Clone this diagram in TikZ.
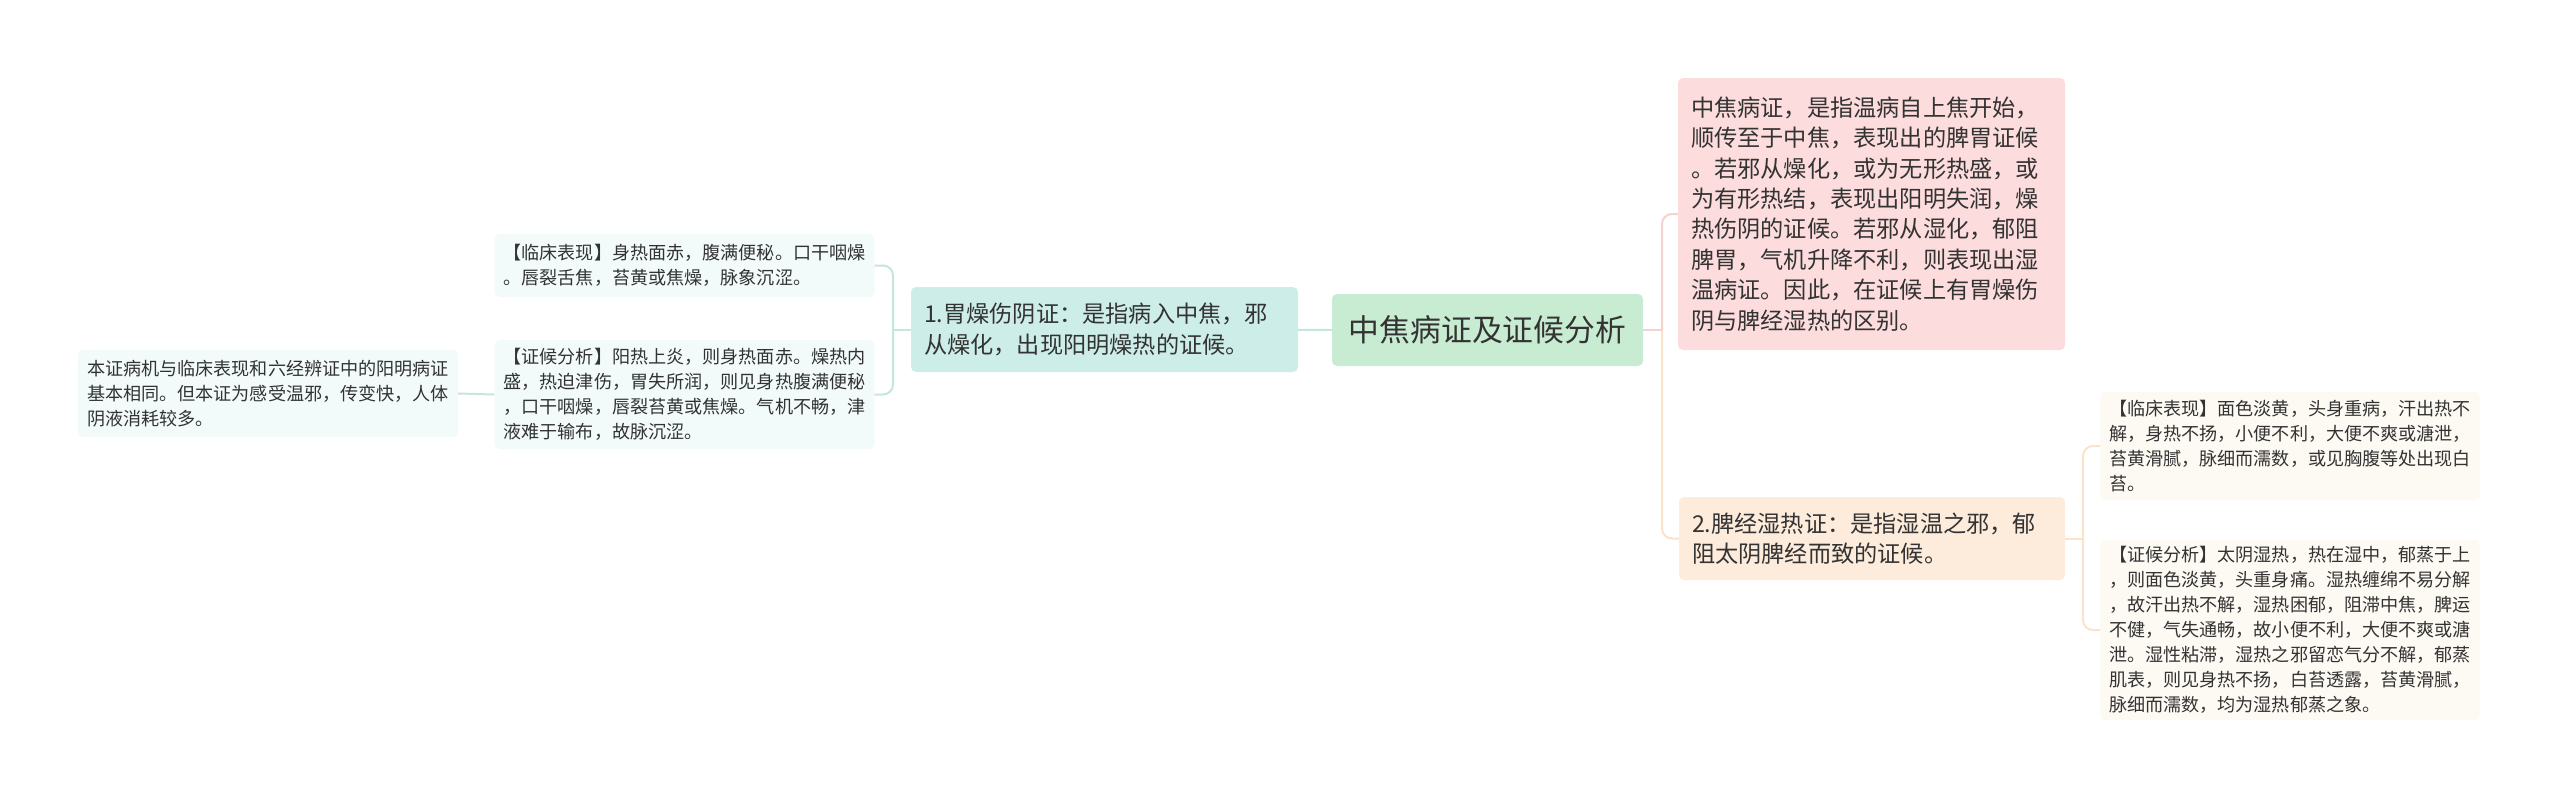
\documentclass[tikz,border=0pt]{standalone}
\usepackage{fontspec}
\setmainfont{Noto Sans CJK SC}
\usepackage{tikz}
\usetikzlibrary{positioning,
calc}
\definecolor{inkgray}{RGB}{51,51,51}
\definecolor{rootgreen}{RGB}{200,236,210}
\definecolor{tealfill}{RGB}{205,238,232}
\definecolor{tealleaf}{RGB}{242,250,250}
\definecolor{tealline}{RGB}{195,230,225}
\definecolor{pinkfill}{RGB}{252,220,220}
\definecolor{pinkline}{RGB}{247,208,208}
\definecolor{orangefill}{RGB}{253,236,219}
\definecolor{orangeline}{RGB}{251,226,200}
\definecolor{creamleaf}{RGB}{253,249,243}
\tikzstyle{Root} = [
fill=rootgreen, rounded corners=5pt, text=inkgray,
font=\fontsize{30.8}{36}\selectfont,
minimum width=311pt, minimum height=72pt, inner sep=0pt
]
\tikzstyle{Topic} = [
rounded corners=5pt, text=inkgray, align=left,
font=\fontsize{23.2}{30.4}\selectfont,
inner xsep=13pt, inner ysep=2pt
]
\tikzstyle{Leaf} = [
rounded corners=5pt, text=inkgray, align=left,
font=\fontsize{18.1}{25}\selectfont,
inner xsep=9pt, inner ysep=2pt, text width=362pt
]
\tikzstyle{Link} = [
line width=2pt, rounded corners=10pt
]

\begin{document}
\begin{tikzpicture}[x=1pt,y=-1pt]
   \useasboundingbox (0,0) rectangle (2560,801);
   \node [Root] (root) at (1487.5,330) {中焦病证及证候分析};
   \node [Topic, fill=tealfill, text width=361pt, minimum height=85pt] (wei) at (1104.5,329.5)
      {1.胃燥伤阴证：是指病入中焦，邪\\从燥化，出现阳明燥热的证候。};
   \node [Leaf, fill=tealleaf, minimum height=63pt] (weibx) at (684.5,265.5)
      {【临床表现】身热面赤，腹满便秘。口干咽燥\\。唇裂舌焦，苔黄或焦燥，脉象沉涩。};
   \node [Leaf, fill=tealleaf, minimum height=109pt] (weifx) at (684.5,394.5)
      {【证候分析】阳热上炎，则身热面赤。燥热内\\盛，热迫津伤，胃失所润，则见身热腹满便秘\\，口干咽燥，唇裂苔黄或焦燥。气机不畅，津\\液难于输布，故脉沉涩。};
   \node [Leaf, fill=tealleaf, minimum height=87pt] (weiyb) at (268,393.5)
      {本证病机与临床表现和六经辨证中的阳明病证\\基本相同。但本证为感受温邪，传变快，人体\\阴液消耗较多。};
   \node [Topic, fill=pinkfill, text width=361pt, minimum height=272pt] (gaishu) at (1871.5,214)
      {中焦病证，是指温病自上焦开始，\\顺传至于中焦，表现出的脾胃证候\\。若邪从燥化，或为无形热盛，或\\为有形热结，表现出阳明失润，燥\\热伤阴的证候。若邪从湿化，郁阻\\脾胃，气机升降不利，则表现出湿\\温病证。因此，在证候上有胃燥伤\\阴与脾经湿热的区别。};
   \node [Topic, fill=orangefill, text width=360pt, minimum height=83pt] (pi) at (1872,538.5)
      {2.脾经湿热证：是指湿温之邪，郁\\阻太阴脾经而致的证候。};
   \node [Leaf, fill=creamleaf, minimum height=108pt] (pibx) at (2290,446)
      {【临床表现】面色淡黄，头身重病，汗出热不\\解，身热不扬，小便不利，大便不爽或溏泄，\\苔黄滑腻，脉细而濡数，或见胸腹等处出现白\\苔。};
   \node [Leaf, fill=creamleaf, minimum height=180pt] (pifx) at (2290,630)
      {【证候分析】太阴湿热，热在湿中，郁蒸于上\\，则面色淡黄，头重身痛。湿热缠绵不易分解\\，故汗出热不解，湿热困郁，阻滞中焦，脾运\\不健，气失通畅，故小便不利，大便不爽或溏\\泄。湿性粘滞，湿热之邪留恋气分不解，郁蒸\\肌表，则见身热不扬，白苔透露，苔黄滑腻，\\脉细而濡数，均为湿热郁蒸之象。};

   \coordinate (rootj) at (1662,330);
   \coordinate (weij) at (893,329.5);
   \coordinate (pij) at (2083,538.5);

   \draw [Link, tealline] (root) to (wei);
   \draw [Link, tealline] (wei.west) to (weij);
   \draw [Link, tealline] (weij) |- (weibx.east);
   \draw [Link, tealline] (weij) |- (weifx.east);
   \draw [Link, tealline] (weifx.west) to (weiyb.east);
   \draw [Link, orangeline] (rootj) |- (pi.west);
   \draw [Link, pinkline] (root.east) to (rootj);
   \draw [Link, pinkline] (rootj) |- (gaishu.west);
   \draw [Link, orangeline] (pi.east) to (pij);
   \draw [Link, orangeline] (pij) |- (pibx.west);
   \draw [Link, orangeline] (pij) |- (pifx.west);
\end{tikzpicture}
\end{document}
